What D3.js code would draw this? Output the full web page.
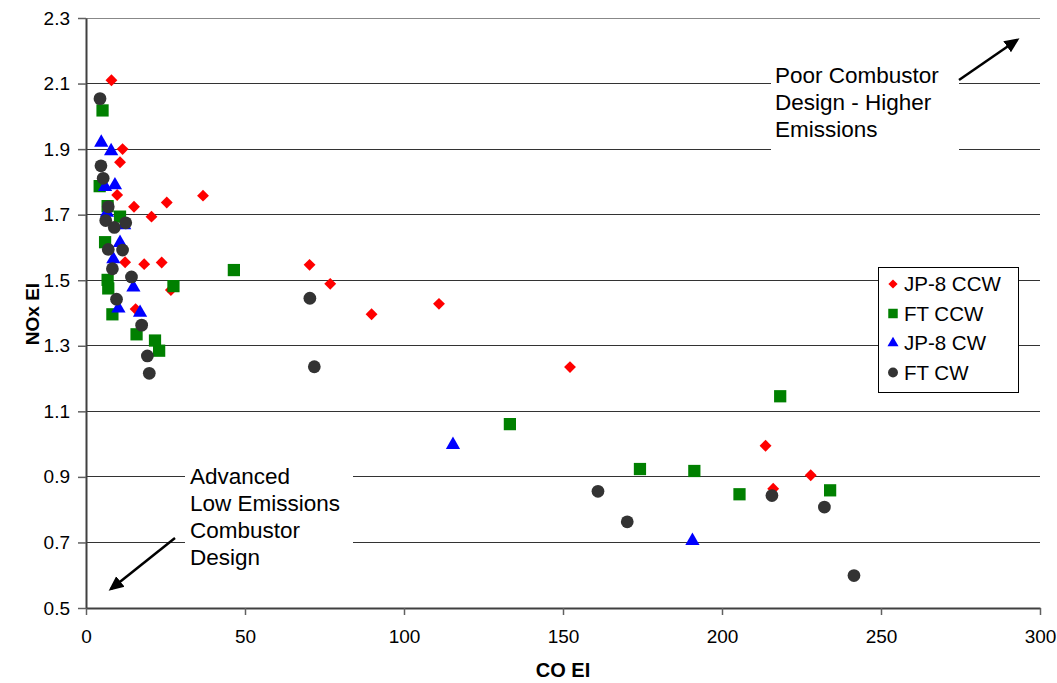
<!DOCTYPE html>
<html><head><meta charset="utf-8">
<script src="https://cdn.jsdelivr.net/npm/d3@7"></script>
<style>body{margin:0;background:#fff;font-family:"Liberation Sans",Arial,sans-serif}</style>
</head><body><svg id="c" width="1057" height="683"></svg>
<script>
const seriesNames = ["JP-8 CCW","FT CCW","JP-8 CW","FT CW"];
const jp8ccw = [[8,2.11],[11.5,1.90],[10.7,1.86],[9.8,1.76],[15.1,1.724],[25.4,1.737],[36.8,1.758],[20.6,1.694],
  [12.3,1.555],[18.3,1.549],[23.8,1.554],[26.7,1.47],[15.6,1.412],[70.3,1.547],[76.8,1.489],[89.8,1.396],
  [111,1.428],[152.2,1.235],[213.7,0.995],[227.9,0.905],[216.1,0.864]];
const ftccw = [[5.2,2.018],[4.3,1.787],[6.8,1.726],[10.7,1.694],[6,1.616],[6.8,1.501],[7,1.475],[8.3,1.396],
  [15.9,1.335],[21.7,1.316],[23,1.285],[27.5,1.482],[46.5,1.531],[133.3,1.061],[174.2,0.924],[191.3,0.918],
  [205.5,0.847],[234,0.859],[218.3,1.146]];
const jp8cw = [[4.8,1.92],[7.9,1.894],[9.1,1.79],[6,1.785],[6.6,1.706],[10.7,1.614],[8.6,1.564],[14.9,1.478],
  [10.2,1.414],[17,1.401],[12,1.668],[115.4,0.998],[190.7,0.705]];
const ftcw = [[4.4,2.054],[4.7,1.849],[5.4,1.811],[7,1.724],[6.2,1.682],[8.9,1.661],[12.5,1.675],[7,1.594],
  [11.5,1.592],[8.3,1.535],[14.3,1.51],[9.6,1.442],[17.5,1.363],[19.3,1.269],[19.9,1.216],[70.4,1.445],
  [71.8,1.236],[161,0.856],[170.2,0.763],[215.7,0.843],[232.2,0.808],[241.5,0.599]];
const xTicks = [0,50,100,150,200,250,300];
const yTicks = [0.5,0.7,0.9,1.1,1.3,1.5,1.7,1.9,2.1,2.3];
const xTitle = "CO EI", yTitle = "NOx EI";
const noteHigh = ["Poor Combustor","Design - Higher","Emissions"];
const noteLow = ["Advanced","Low Emissions","Combustor","Design"];

const svg = d3.select("#c");
const x = d3.scaleLinear().domain([0,300]).range([86,1040]);
const y = d3.scaleLinear().domain([0.5,2.3]).range([608,18]);

// gridlines
svg.append("g").selectAll("line").data(yTicks.slice(1)).join("line")
  .attr("x1",86).attr("x2",1040).attr("y1",d=>y(d)).attr("y2",d=>y(d))
  .attr("stroke",d=>d===2.3?"#888":"#333").attr("stroke-width",1).attr("shape-rendering","crispEdges");

// annotation boxes
svg.append("rect").attr("x",771).attr("y",58).attr("width",188).attr("height",94).attr("fill","#fff");
svg.append("rect").attr("x",185).attr("y",460).attr("width",168).attr("height",116).attr("fill","#fff");

// axes
const yAxis = d3.axisLeft(y).tickValues(yTicks).tickFormat(d3.format(".1f")).tickSizeInner(8).tickSizeOuter(0);
const gy = svg.append("g").attr("transform","translate(86,0)").call(yAxis);
const xAxis = d3.axisBottom(x).tickValues(xTicks).tickFormat(d3.format("d")).tickSizeInner(7).tickSizeOuter(0);
const gx = svg.append("g").attr("transform","translate(0,608)").call(xAxis);
[gy,gx].forEach(g=>{
  g.select(".domain").attr("stroke","#404040").attr("stroke-width",2);
  g.selectAll(".tick line").attr("stroke","#606060").attr("stroke-width",1.5);
  g.selectAll(".tick text").attr("fill","#000").style("font-size","19px").style("font-family","Liberation Sans, Arial, sans-serif");
});
gy.selectAll(".tick text").attr("x",-16);
gx.selectAll(".tick text").attr("y",22);

svg.append("text").attr("x",563).attr("y",677).attr("text-anchor","middle")
  .style("font-weight","bold").style("font-size","20px").text(xTitle);
svg.append("text").attr("transform","translate(39,314) rotate(-90)").attr("text-anchor","middle")
  .style("font-weight","bold").style("font-size","19px").text(yTitle);

// markers
const sym = {
  "JP-8 CCW": {type:d3.symbolDiamond2, size:90, color:"#ff0000", data:jp8ccw},
  "FT CCW": {type:d3.symbolSquare, size:150, color:"#008000", data:ftccw},
  "JP-8 CW": {type:d3.symbolTriangle, size:88, color:"#0000ff", data:jp8cw},
  "FT CW": {type:d3.symbolCircle, size:128, color:"#333333", data:ftcw}
};
function draw(name, g){
  const s = sym[name];
  g.selectAll("path").data(s.data).join("path")
    .attr("d", d3.symbol().type(s.type).size(s.size))
    .attr("transform", d=>`translate(${x(d[0])},${y(d[1])})`)
    .attr("fill", s.color);
}
seriesNames.forEach(n=>draw(n, svg.append("g")));

// legend
const lg = svg.append("g");
lg.append("rect").attr("x",878.5).attr("y",267.5).attr("width",140).attr("height",125)
  .attr("fill","#fff").attr("stroke","#000").attr("stroke-width",1);
seriesNames.forEach((n,i)=>{
  const s = sym[n];
  const cy = 284 + i*29.5;
  lg.append("path").attr("d", d3.symbol().type(s.type).size(s.size*0.6))
    .attr("transform",`translate(893,${cy})`).attr("fill",s.color);
  lg.append("text").attr("x",904).attr("y",cy+7).style("font-size","20.5px").text(n);
});

// annotation text
svg.append("g").selectAll("text").data(noteHigh).join("text")
  .attr("x",775).attr("y",(d,i)=>83+i*27).style("font-size","22.5px").text(d=>d);
svg.append("g").selectAll("text").data(noteLow).join("text")
  .attr("x",190).attr("y",(d,i)=>484+i*27).style("font-size","22.5px").text(d=>d);

// arrows
const defs = svg.append("defs");
defs.append("marker").attr("id","ah").attr("viewBox","0 0 10 10").attr("refX",8).attr("refY",5)
  .attr("markerWidth",6).attr("markerHeight",6).attr("orient","auto")
  .append("path").attr("d","M0,0.5 L10,5 L0,9.5 z").attr("fill","#000");
svg.append("line").attr("x1",959).attr("y1",80).attr("x2",1017).attr("y2",40)
  .attr("stroke","#000").attr("stroke-width",2.5).attr("marker-end","url(#ah)");
svg.append("line").attr("x1",175).attr("y1",538).attr("x2",111).attr("y2",589)
  .attr("stroke","#000").attr("stroke-width",2.5).attr("marker-end","url(#ah)");
</script></body></html>
